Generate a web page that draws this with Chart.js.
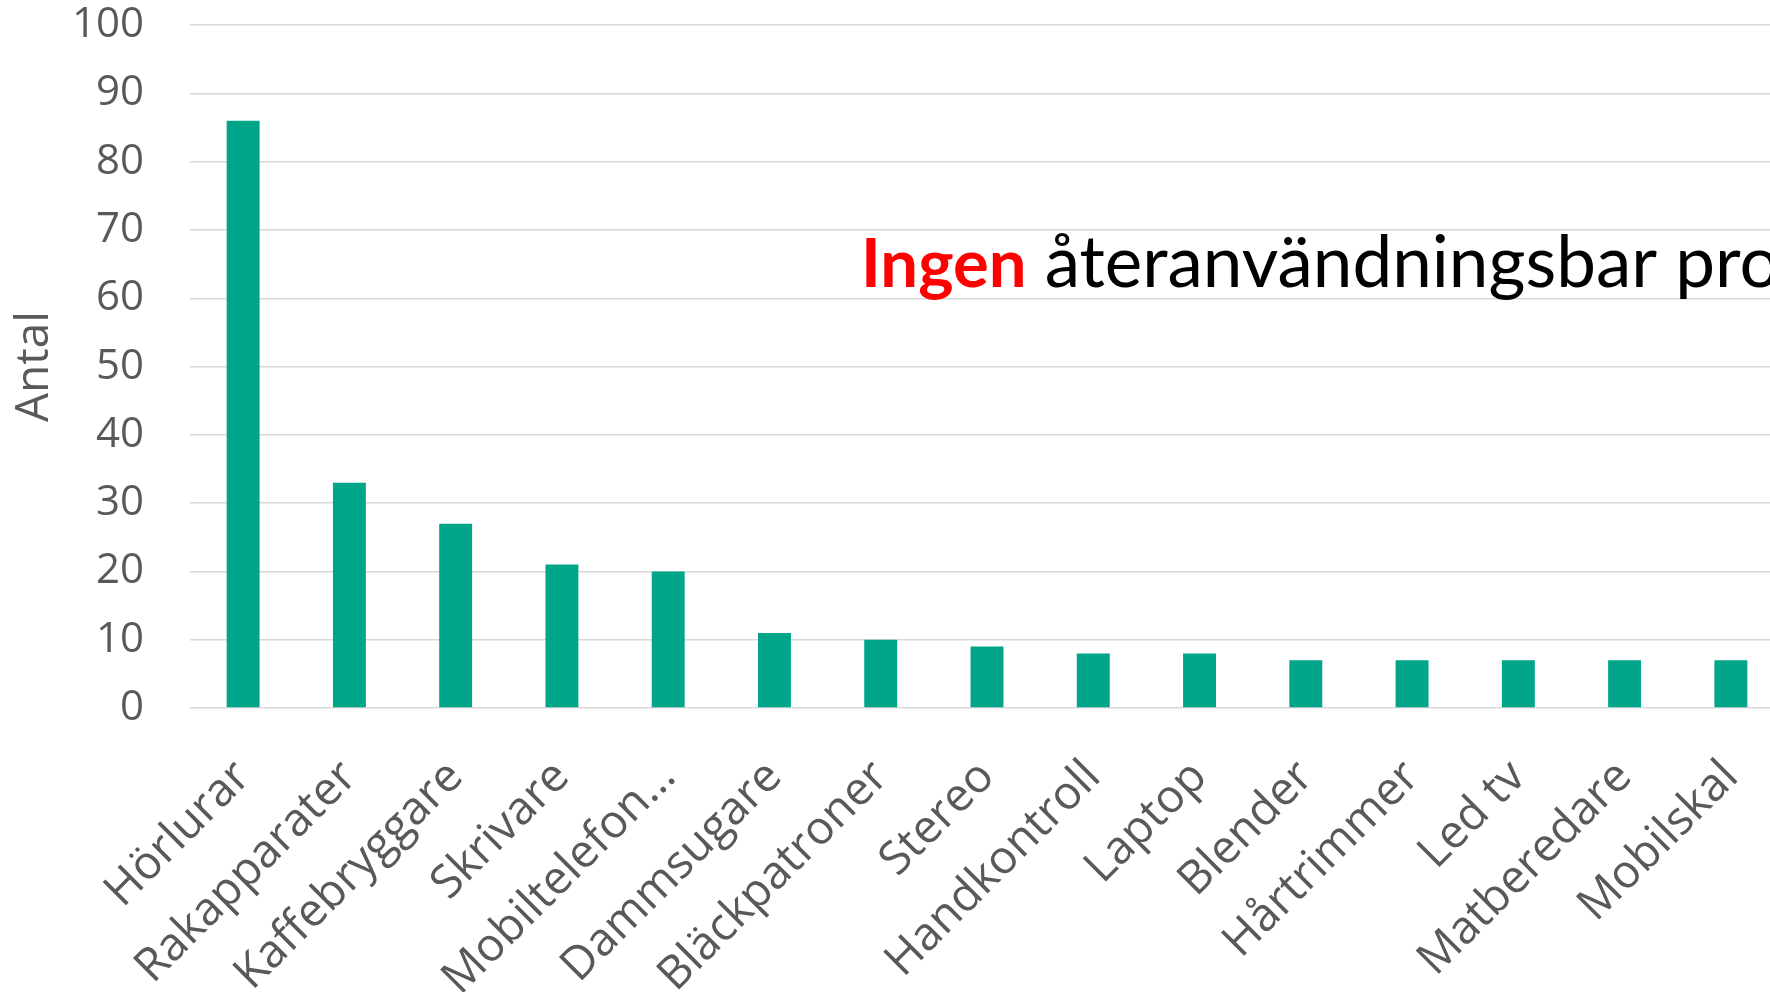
<!DOCTYPE html>
<html lang="sv">
<head>
  <meta charset="UTF-8">
  <title>Ingen återanvändningsbar produkt</title>
  <script src="https://cdn.jsdelivr.net/npm/chart.js"></script>
  <style>
    html, body {
      margin: 0;
      padding: 0;
      overflow: hidden;
      background: #fff;
    }

    .chart-container {
      position: relative;
      width: 1800px;
      height: 992px;
    }
  </style>
</head>
<body>

  <div class="chart-container">
    <canvas id="countChart"></canvas>
  </div>

  <script>
    // Data
    const categories = ['Hörlurar', 'Rakapparater', 'Kaffebryggare', 'Skrivare', 'Mobiltelefon…',
      'Dammsugare', 'Bläckpatroner', 'Stereo', 'Handkontroll', 'Laptop',
      'Blender', 'Hårtrimmer', 'Led tv', 'Matberedare', 'Mobilskal'];
    const counts = [86, 33, 27, 21, 20, 11, 10, 9, 8, 8, 7, 7, 7, 7, 7];
    const yMin = 0;
    const yMax = 100;
    const yStep = 10;
    const axisTitle = 'Antal';
    const noteHighlight = 'Ingen';
    const noteText = ' återanvändningsbar produkt';

    const grey = '#595959';
    const gridGrey = '#d9d9d9';

    // Draws the overlaid headline text
    const notePlugin = {
      id: 'note',
      afterDraw(chart) {
        const ctx = chart.ctx;
        const x = 861;
        const y = 287;
        ctx.save();
        ctx.textBaseline = 'alphabetic';
        ctx.textAlign = 'left';
        ctx.font = 'bold 67px Lato';
        ctx.fillStyle = '#ff0000';
        ctx.fillText(noteHighlight, x, y);
        const w = ctx.measureText(noteHighlight).width;
        ctx.font = '71px Lato';
        ctx.fillStyle = '#000000';
        ctx.fillText(noteText, x + w, y);
        ctx.restore();
      }
    };

    const ctx = document.getElementById('countChart').getContext('2d');
    new Chart(ctx, {
      type: 'bar',
      data: {
        labels: categories,
        datasets: [{
          label: axisTitle,
          data: counts,
          backgroundColor: '#00a58a',
          barPercentage: 1,
          categoryPercentage: 0.31
        }]
      },
      options: {
        responsive: true,
        maintainAspectRatio: false,
        animation: false,
        layout: {
          padding: { top: 1, right: 16, left: 0, bottom: 0 }
        },
        plugins: {
          legend: { display: false },
          tooltip: { enabled: false }
        },
        scales: {
          x: {
            grid: { display: false },
            border: { display: false },
            ticks: {
              autoSkip: false,
              maxRotation: 45,
              minRotation: 45,
              color: grey,
              padding: 34,
              font: { family: 'Open Sans', size: 46 }
            },
            afterFit: scale => {
              scale.height = 284;
              scale.paddingRight = 0;
            }
          },
          y: {
            min: yMin,
            max: yMax,
            ticks: {
              stepSize: yStep,
              color: grey,
              padding: 0,
              font: { family: 'Open Sans', size: 42 }
            },
            grid: { color: gridGrey, lineWidth: 1.5, tickLength: 46, tickColor: 'rgba(0,0,0,0)' },
            border: { display: false },
            title: {
              display: true,
              text: axisTitle,
              color: grey,
              font: { family: 'Open Sans', size: 46 },
              padding: { top: 7, bottom: 0 }
            },
            afterFit: scale => { scale.width = 190; }
          }
        }
      },
      plugins: [notePlugin]
    });
  </script>
</body>
</html>
